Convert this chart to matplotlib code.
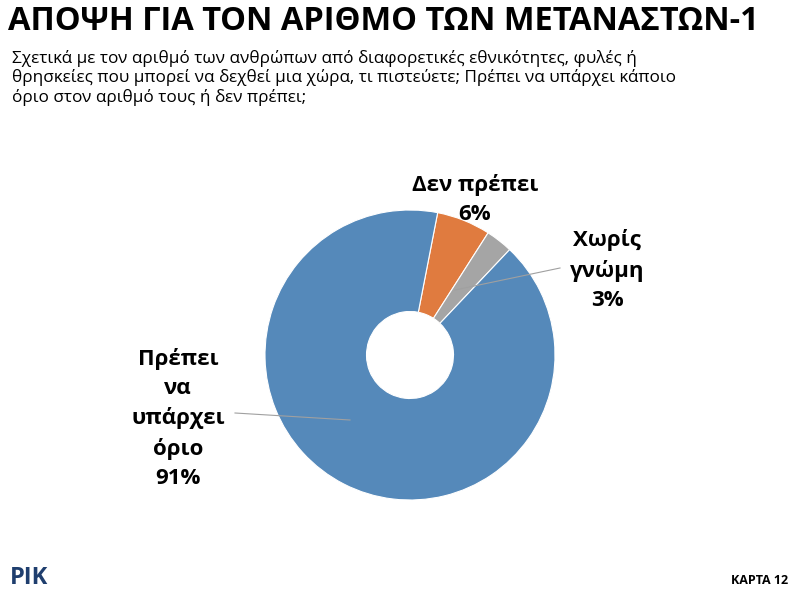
import matplotlib
matplotlib.use("Agg")
import matplotlib.pyplot as plt

labels = ["Δεν πρέπει", "Χωρίς γνώμη", "Πρέπει να υπάρχει όριο"]
values = [6, 3, 91]
colors = ["#E07B3F", "#A5A5A5", "#5589BA"]

plt.rcParams["font.family"] = "Open Sans"
fig = plt.figure(figsize=(8, 6), dpi=100)
W, H = 800, 600
def fx(x): return x / W
def fy(y): return 1 - y / H

fig.text(fx(8), fy(22), "ΑΠΟΨΗ ΓΙΑ ΤΟΝ ΑΡΙΘΜΟ ΤΩΝ ΜΕΤΑΝΑΣΤΩΝ-1", fontsize=23.5, fontweight="bold", va="center", ha="left")
fig.text(fx(12), fy(78), "Σχετικά με τον αριθμό των ανθρώπων από διαφορετικές εθνικότητες, φυλές ή\n"
         "θρησκείες που μπορεί να δεχθεί μια χώρα, τι πιστεύετε; Πρέπει να υπάρχει κάποιο\n"
         "όριο στον αριθμό τους ή δεν πρέπει;", fontsize=12.3, va="center", ha="left", linespacing=1.2)

ax = fig.add_axes([fx(265), fy(500), 290 / W, 290 / H])
ax.pie(values, colors=colors, startangle=79, counterclock=False,
       wedgeprops=dict(width=0.7, edgecolor="white", linewidth=0.8))
ax.set_xlim(-1, 1)
ax.set_ylim(-1, 1)
ax.set_aspect("equal")

def d(x, y): return ((x - 410) / 145, (355 - y) / 145)
for (a, b) in [((455, 290), (560, 268)), ((350, 420), (235, 413))]:
    p, q = d(*a), d(*b)
    ax.plot([p[0], q[0]], [p[1], q[1]], color="#A0A0A0", lw=0.8, clip_on=False)

lab = dict(fontsize=16, fontweight="bold", ha="center", va="center", linespacing=1.5)
fig.text(fx(475), fy(200), "Δεν πρέπει\n6%", **lab)
fig.text(fx(607), fy(270), "Χωρίς\nγνώμη\n3%", **lab)
fig.text(fx(178), fy(418), "Πρέπει\nνα\nυπάρχει\nόριο\n91%", **lab)

fig.text(fx(10), fy(578), "ΡΙΚ", fontsize=17, fontweight="bold", color="#1F3E6E", ha="left", va="center")
fig.text(fx(788), fy(580), "ΚΑΡΤΑ 12", fontsize=9, fontweight="bold", ha="right", va="center")

fig.savefig("out.png", dpi=100)
